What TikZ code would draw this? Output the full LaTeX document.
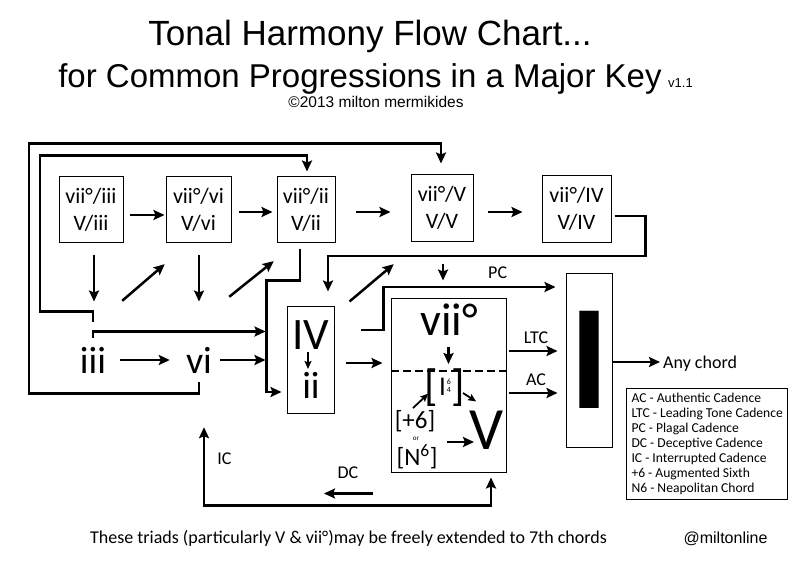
\documentclass[tikz,border=0pt]{standalone}
\usepackage{fontspec}
\setmainfont{Carlito}
\newfontfamily\helv{Liberation Sans}
\usetikzlibrary{arrows.meta,calc,positioning}

\begin{document}
\begin{tikzpicture}[x=1pt,y=-1pt,
	  every node/.style={inner sep=0pt,align=center},
	  secbox/.style={draw,line width=1pt,minimum height=65pt,font=\fontsize{22}{27}\selectfont},
	  roman/.style={minimum width=40pt,minimum height=44pt,font=\fontsize{38}{38}\selectfont},
	  chordbox/.style={draw,line width=1pt},
	  flow/.style={->,>={Stealth[length=11pt,width=10pt,inset=2pt]},shorten >=1pt,line width=2.8pt},
	  smallflow/.style={->,>={Stealth[length=8pt,width=7pt,inset=1.5pt]},shorten >=1pt,line width=1.8pt},
	  cadence/.style={font=\fontsize{18}{18}\selectfont},
	  headline/.style={font=\helv\fontsize{33}{33}\selectfont,anchor=base}]

	  \useasboundingbox (0,0) rectangle (812,567);

	  % Title lines
	  \node[headline,font=\helv\fontsize{35}{35}\selectfont] (heading) at (370,46) {Tonal Harmony Flow Chart...};
	  \node[headline] (subheading) at (360,88) {for Common Progressions in a Major Key};
	  \node[font=\helv\fontsize{13}{13}\selectfont,anchor=base west] (version) at (668,88) {v1.1};
	  \node[font=\helv\fontsize{15.5}{15.5}\selectfont,anchor=base] (credit) at (376,108) {©2013 milton mermikides};

	  % Secondary dominants along the top
	  \node[secbox,minimum width=64pt] (seciii) at (91,209.5) {vii°/iii\\V/iii};
	  \node[secbox,minimum width=65pt] (secvi) at (198.5,209.5) {vii°/vi\\V/vi};
	  \node[secbox,minimum width=58pt] (secii) at (306,209.5) {vii°/ii\\V/ii};
	  \node[secbox,minimum width=62pt,minimum height=66pt] (secV) at (442,208) {vii°/V\\V/V};
	  \node[secbox,minimum width=69pt,minimum height=66pt] (secIV) at (576.5,209) {vii°/IV\\V/IV};

	  % Diatonic chords
	  \node[roman] (iii) at (93,360) {iii};
	  \node[roman] (vi) at (199,360) {vi};

	  \node[chordbox,minimum width=47pt,minimum height=107pt] (predom) at (310.5,359.5) {};
	  \node[font=\fontsize{45}{45}\selectfont] (subdom) at (311,335) {IV};
	  \node[font=\fontsize{38}{38}\selectfont] (supertonic) at (311,385) {ii};

	  \node[chordbox,minimum width=115pt,minimum height=174pt] (dom) at (448.5,385) {};
	  \node[font=\fontsize{46}{46}\selectfont] (leading) at (449,320) {vii°};
	  \node (cadsix) at (445,388) {\raisebox{-5pt}{\fontsize{44}{44}\selectfont[}\kern1pt{\fontsize{27}{27}\selectfont I}\kern1pt\raisebox{3pt}{\fontsize{8}{8}\selectfont\shortstack{6\\4}}\kern1pt\raisebox{-5pt}{\fontsize{44}{44}\selectfont]}};
	  \node[font=\fontsize{25}{25}\selectfont] (augsixth) at (415,421) {[+6]};
	  \node[font=\fontsize{7}{7}\selectfont] (ortext) at (416,439) {or};
	  \node[font=\fontsize{25}{25}\selectfont] (neapol) at (417,457) {[N\textsuperscript{6}]};
	  \node[font=\fontsize{60}{60}\selectfont] (dominant) at (487,430) {V};

	  \node[chordbox,minimum width=46pt,minimum height=174pt,font=\fontsize{150}{150}\selectfont\bfseries] (tonic) at (589,360) {I};
	  \node[font=\fontsize{18}{18}\selectfont,anchor=base west] (anychord) at (663,368) {Any chord};

	  \node[draw,line width=1pt,anchor=north west,align=left,inner xsep=5pt,inner ysep=4.5pt,font=\fontsize{13.6}{15}\selectfont] (keybox) at (626,388)
	    {AC - Authentic Cadence\\LTC - Leading Tone Cadence\\PC - Plagal Cadence\\DC - Deceptive Cadence\\IC - Interrupted Cadence\\+6 - Augmented Sixth\\N6 - Neapolitan Chord};

	  \node[font=\fontsize{18}{18}\selectfont,anchor=base] (footnote) at (348.5,543) {These triads (particularly V \& vii°)may be freely extended to 7th chords};
	  \node[font=\helv\fontsize{16}{16}\selectfont,anchor=base] (handle) at (725.5,543) {@miltonline};

	  % Top row
	  \draw[flow,shorten <=6pt] ([yshift=-5.5pt]seciii.east) -- ([yshift=-5.5pt]seciii.east -| secvi.west);
	  \draw[flow,shorten <=7pt,shorten >=4pt] ([yshift=-2.5pt]secvi.east) -- ([yshift=-2.5pt]secvi.east -| secii.west);
	  \draw[flow,shorten <=20pt,shorten >=20pt] ([yshift=-2.5pt]secii.east) -- ([yshift=-2.5pt]secii.east -| secV.west);
	  \draw[flow,shorten <=14pt,shorten >=19pt] ([yshift=-4pt]secV.east) -- ([yshift=-4pt]secV.east -| secIV.west);

	  % Down and back up
	  \draw[flow] ($(seciii.south)+(3,12)$) -- ++(0,48);
	  \draw[flow] ($(secvi.south)+(0.5,12)$) -- ++(0,48);
	  \draw[flow,line width=2.5pt] ($(iii.north east)+(9,-37)$) -- ($(secvi.south west)+(0,21)$);
	  \draw[flow,line width=2.5pt] ($(vi.north east)+(10,-41)$) -- ($(secii.south west)+(-2,18)$);
	  \draw[flow,line width=2.5pt] ($(predom.north east)+(15,-4)$) -- ($(secV.south west)+(-16,22)$);
	  \draw[flow] ($(secV.south)+(1,22)$) -- ($(dom.north)+(-5.5,-16)$);

	  % Long routes round the chart
	  \draw[flow] ($(iii.north)+(0,-16)$) -- ++(0,-10) -- ++(-53,0) |- ($(secii.north)+(1,-21)$) -- ($(secii.north)+(1,-4)$);
	  \draw[flow] (vi.south) -- ++(0,11) -- ++(-170,0) |- ($(secV.north)+(-1,-31)$) -- ($(secV.north)+(-1,-10)$);

	  % Into the predominant box
	  \coordinate (bus) at ($(predom.north west)+(-20,-25)$);
	  \draw[flow] (iii.north) |- ($(bus)+(0,51)$);
	  \draw[flow,shorten <=7pt,shorten >=9pt] (iii) -- (vi);
	  \draw[flow] ([xshift=1pt]vi.east) -- (vi.east -| bus);
	  \draw[flow] ($(secii.south)+(-6,6)$) |- (bus) |- ($(predom.west)+(-4,32.5)$);
	  \draw[flow] ($(secIV.east)+(3,7)$) -| ++(31,40) -| ($(predom.north)+(17.5,-13)$);
	  \draw[smallflow] ($(subdom)+(-3,17)$) -- ($(supertonic)+(-3,-15)$);

	  % Out of the predominant box
	  \draw[flow,shorten <=11pt,shorten >=8pt] ([yshift=-3.5pt]predom.east) -- ([yshift=-3.5pt]predom.east -| dom.west);
	  \draw[flow] ($(predom.east)+(26,-29.5)$) -- ++(23,0) |- ($(tonic.west)+(-9,-73)$) node[cadence,pos=0.83,above=7pt] {PC};

	  % Inside the dominant box
	  \draw[flow,line width=2.5pt] ($(dom.center)+(0,-38)$) -- ++(0,18);
	  \draw[line width=2.6pt,dash pattern=on 8pt off 4pt] ([yshift=14pt]dom.west) -- ([yshift=14pt]dom.east);
	  \draw[smallflow] ($(augsixth)+(-2,-13)$) -- ($(cadsix)+(-16,5)$);
	  \draw[smallflow] ($(cadsix)+(18,5)$) -- ($(dominant)+(-10,-28)$);
	  \draw[flow,line width=2.5pt] ($(neapol)+(30,-15)$) -- ($(dominant)+(-12,12)$);

	  % Cadences
	  \draw[flow,shorten <=2pt,shorten >=8pt] ([yshift=34pt]dom.east) -- ([yshift=34pt]dom.east -| tonic.west) node[cadence,midway,above=6pt] {LTC};
	  \draw[flow,shorten <=2pt,shorten >=8pt] ([yshift=-8pt]dom.east) -- ([yshift=-8pt]dom.east -| tonic.west) node[cadence,midway,above=6pt] {AC};
	  \draw[flow,shorten >=3pt] ([yshift=-2pt]tonic.east) -- ([yshift=-2pt]tonic.east -| anychord.west);

	  \draw[flow,<->] ($(vi.south)+(5,45)$) |- ($(dom.south)+(42.5,33)$) node[cadence,pos=0.2,right=12pt] {IC} -- ($(dom.south)+(42.5,4)$);
	  \coordinate (dcstart) at ($(dom.south)+(-75.5,21)$);
	  \draw[flow] (dcstart) -- ++(-50,0) node[cadence,midway,above=13pt] {DC};

\end{tikzpicture}
\end{document}
